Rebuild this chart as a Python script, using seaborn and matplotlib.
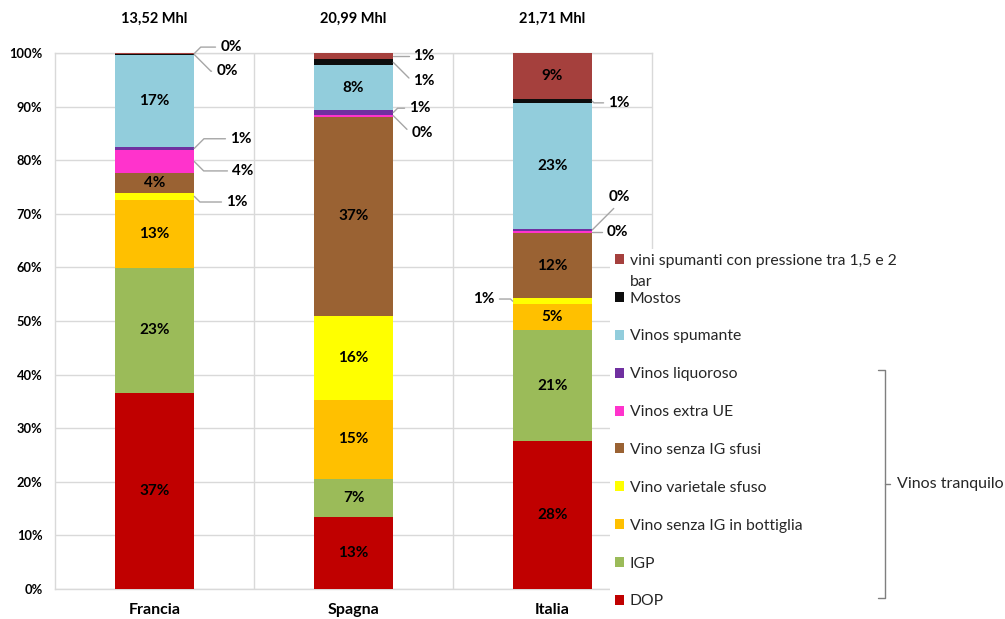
import numpy as np
import pandas as pd
import matplotlib
matplotlib.use("Agg")
import matplotlib.pyplot as plt
from matplotlib.lines import Line2D
from matplotlib.patches import Patch
import seaborn as sns

# ---------------- data ----------------
countries = ["Francia", "Spagna", "Italia"]
totals_mhl = ["13,52 Mhl", "20,99 Mhl", "21,71 Mhl"]
series_names = [
    "DOP", "IGP", "Vino senza IG in bottiglia", "Vino varietale sfuso",
    "Vino senza IG sfusi", "Vinos extra UE", "Vinos liquoroso",
    "Vinos spumante", "Mostos", "vini spumanti con pressione tra 1,5 e 2 bar",
]
dop = [36.6, 13.4, 27.6]
igp = [23.3, 7.1, 20.7]
bottiglia = [12.7, 14.8, 4.9]
varietale = [1.3, 15.6, 1.0]
sfusi = [3.7, 37.2, 12.2]
extra_ue = [4.3, 0.4, 0.4]
liquoroso = [0.6, 0.8, 0.4]
spumante = [17.1, 8.4, 23.4]
mostos = [0.2, 1.1, 0.8]
vini_spumanti_pressione = [0.2, 1.2, 8.6]
series_values = [dop, igp, bottiglia, varietale, sfusi, extra_ue,
                 liquoroso, spumante, mostos, vini_spumanti_pressione]
bracket_label = "Vinos tranquilo"

# ---------------- styles ----------------
colors = ["#C00000", "#9BBB59", "#FFC000", "#FFFF00", "#9A6233",
          "#FF33CC", "#7030A0", "#92CDDC", "#0D0D0D", "#A5403D"]

# outside labels: (series index, country index) -> (label x offset, label y, side)
outside = {
    (9, 0): (0.33, 101.1, "r"), (8, 0): (0.31, 96.6, "r"),
    (6, 0): (0.38, 84.0, "r"), (5, 0): (0.39, 78.0, "r"),
    (3, 0): (0.36, 72.2, "r"),
    (9, 1): (0.30, 99.4, "r"), (8, 1): (0.30, 94.8, "r"),
    (6, 1): (0.28, 89.7, "r"), (5, 1): (0.29, 85.1, "r"),
    (8, 2): (0.28, 90.7, "r"), (6, 2): (0.28, 73.1, "r"),
    (5, 2): (0.27, 66.6, "r"), (3, 2): (-0.29, 54.1, "l"),
}

sns.set_theme(style="white")
plt.rcParams["font.family"] = ["Lato", "DejaVu Sans"]

W, H = 1005, 619
fig = plt.figure(figsize=(W / 100, H / 100), dpi=100)
ax = fig.add_axes([55 / W, 1 - 589 / H, (652 - 55) / W, (589 - 53) / H])

bottom = np.zeros(len(countries))
handles = []
bottoms = []
for name, vals, col in zip(series_names, series_values, colors):
    vals = np.asarray(vals, dtype=float)
    sns.barplot(x=countries, y=vals, bottom=bottom, color=col, width=0.4,
                saturation=1, errorbar=None, ax=ax, linewidth=0, zorder=3)
    handles.append(Patch(facecolor=col, edgecolor="none"))
    bottoms.append(bottom.copy())
    bottom = bottom + vals

ax.set_xlim(-0.5, 2.5)
ax.set_ylim(0, 100)
ax.set_yticks(np.arange(0, 101, 10))
ax.set_yticklabels([f"{v}%" for v in range(0, 101, 10)])
ax.set_axisbelow(True)
ax.yaxis.grid(True, color="#D9D9D9", lw=1)
ax.set_xticks([0.5, 1.5], minor=True)
ax.xaxis.grid(True, which="minor", color="#D9D9D9", lw=1)
for s in ax.spines.values():
    s.set_color("#D9D9D9")
    s.set_linewidth(1)
ax.tick_params(axis="y", length=0, pad=9, labelsize=9.3)
ax.tick_params(axis="x", which="both", length=0, pad=10, labelsize=11.5)
for t in ax.get_yticklabels() + ax.get_xticklabels():
    t.set_fontweight("bold")
    t.set_color("black")
ax.set_xlabel("")
ax.set_ylabel("")

# data labels
for si, (vals, bots) in enumerate(zip(series_values, bottoms)):
    for ci, v in enumerate(vals):
        txt = f"{v:.0f}%"
        mid = bots[ci] + v / 2
        if (si, ci) in outside:
            lx, ly, side = outside[(si, ci)]
            ax_x = ci + (0.2 if side == "r" else -0.2)
            dy = ly - mid
            sgn = (1 if dy >= 0 else -1) * (1 if side == "r" else -1)
            ang = 45 * sgn
            ax.annotate(txt, xy=(ax_x, mid), xytext=(ci + lx, ly),
                        textcoords="data", ha="left" if side == "r" else "right",
                        va="center", fontsize=11, fontweight="bold",
                        color="black", annotation_clip=False, zorder=6,
                        arrowprops=dict(arrowstyle="-", color="#A6A6A6", lw=1,
                                        shrinkA=1, shrinkB=0,
                                        connectionstyle=f"angle,angleA=0,angleB={ang},rad=0"))
        else:
            ax.text(ci, mid, txt, ha="center", va="center", fontsize=11,
                    fontweight="bold", color="black", zorder=6)

for ci, tot in enumerate(totals_mhl):
    ax.text(ci, 106.3, tot, ha="center", va="center", fontsize=10.5,
            fontweight="bold", color="black", clip_on=False)

# legend
labels = list(series_names)
first_line, second_line = labels[-1].rsplit(" ", 1)
labels[-1] = first_line
leg = ax.legend(handles[::-1], labels[::-1], loc="upper left",
                bbox_to_anchor=(610 / W, 1 - 249 / H), bbox_transform=fig.transFigure,
                frameon=True, facecolor="white", edgecolor="none", framealpha=1,
                fancybox=False, borderpad=0.3, handlelength=0.6, handleheight=0.6,
                handletextpad=0.35, labelspacing=1.52, fontsize=11.3, borderaxespad=0)
leg.set_zorder(10)
t0 = leg.get_texts()[0]
ax.annotate(second_line, xy=(0, 0), xycoords=t0, xytext=(0, -5.3),
            textcoords="offset points", ha="left", va="top", fontsize=11.3,
            annotation_clip=False, zorder=11)

# bracket
bc = "#7F7F7F"
def fx(px):
    return px / W
def fy(py):
    return 1 - py / H
fig.add_artist(Line2D([fx(878), fx(885), fx(885), fx(878)],
                      [fy(370), fy(370), fy(598), fy(598)], color=bc, lw=1))
fig.add_artist(Line2D([fx(885), fx(890)], [fy(484), fy(484)], color=bc, lw=1))
fig.text(fx(897), fy(484), bracket_label, ha="left", va="center", fontsize=11.5)

fig.savefig("out.png", dpi=100)
